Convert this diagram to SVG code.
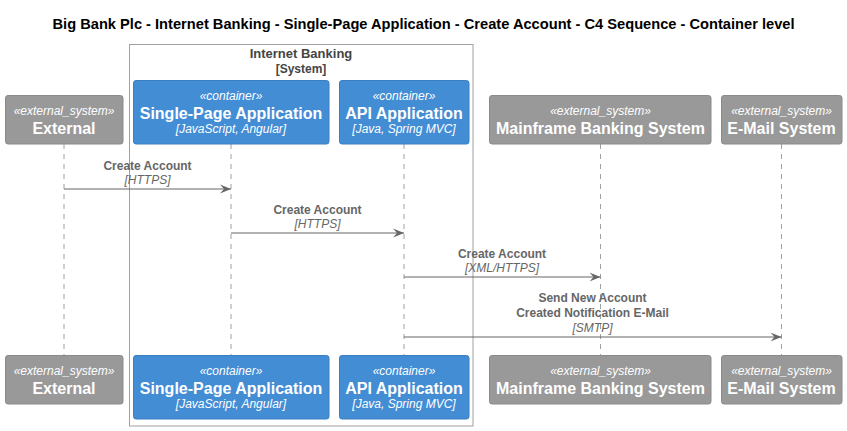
<svg xmlns="http://www.w3.org/2000/svg" width="847" height="431" viewBox="0 0 847 431">
<style>
text{font-family:"Liberation Sans",Arial,sans-serif;}
.title{font-size:14.5px;font-weight:bold;fill:#000;}
.bl{font-size:13px;font-weight:bold;fill:#444;}
.bs{font-size:12px;font-weight:bold;fill:#444;}
.ext{fill:#999999;stroke:#8A8A8A;stroke-width:1;}
.con{fill:#438DD5;stroke:#3C7FC0;stroke-width:1;}
.st{font-size:12px;font-style:italic;fill:#fff;}
.nm{font-size:16px;font-weight:bold;fill:#fff;}
.tc{font-size:12px;font-style:italic;fill:#fff;}
.life{stroke:#A0A0A0;stroke-width:1;stroke-dasharray:5,5;}
.msg{stroke:#666666;stroke-width:1;fill:none;}
.ml{font-size:12px;font-weight:bold;fill:#666666;}
.mt{font-size:12px;font-style:italic;fill:#666666;}
</style>
<defs>
<marker id="ah" markerWidth="11" markerHeight="10" refX="11" refY="5" orient="auto" markerUnits="userSpaceOnUse">
<polygon points="0,0.5 11,5 0,9.5 4,5" fill="#666666"/>
</marker>
</defs>
<rect width="847" height="431" fill="#fff"/>
<text class="title" x="423.5" y="29" text-anchor="middle" textLength="742" lengthAdjust="spacingAndGlyphs">Big Bank Plc - Internet Banking - Single-Page Application - Create Account - C4 Sequence - Container level</text>

<g id="boundary">
<rect x="129.5" y="44.5" width="343.5" height="381.5" fill="none" stroke="#A0A0A0" stroke-width="1"/>
<text class="bl" x="301" y="58" text-anchor="middle">Internet Banking</text>
<text class="bs" x="301" y="73" text-anchor="middle">[System]</text>
</g>

<g id="lifelines">
<line class="life" x1="64" y1="144" x2="64" y2="355"/>
<line class="life" x1="231" y1="144" x2="231" y2="355"/>
<line class="life" x1="404" y1="144" x2="404" y2="355"/>
<line class="life" x1="600.5" y1="144" x2="600.5" y2="355"/>
<line class="life" x1="781.5" y1="144" x2="781.5" y2="355"/>
</g>

<g id="external">
<rect class="ext" x="5.5" y="95.5" width="117.5" height="48.5" rx="2.5"/>
<text class="st" x="64" y="114.5" text-anchor="middle">«external_system»</text>
<text class="nm" x="64" y="133.5" text-anchor="middle">External</text>
<rect class="ext" x="5.5" y="355.5" width="117.5" height="48.5" rx="2.5"/>
<text class="st" x="64" y="374.5" text-anchor="middle">«external_system»</text>
<text class="nm" x="64" y="393.5" text-anchor="middle">External</text>
</g>

<g id="spa">
<rect class="con" x="133.5" y="80.5" width="195.5" height="63.5" rx="2.5"/>
<text class="st" x="231" y="100" text-anchor="middle">«container»</text>
<text class="nm" x="231" y="118.5" text-anchor="middle">Single-Page Application</text>
<text class="tc" x="231" y="133" text-anchor="middle">[JavaScript, Angular]</text>
<rect class="con" x="133.5" y="355.5" width="195.5" height="63.5" rx="2.5"/>
<text class="st" x="231" y="375" text-anchor="middle">«container»</text>
<text class="nm" x="231" y="393.5" text-anchor="middle">Single-Page Application</text>
<text class="tc" x="231" y="408" text-anchor="middle">[JavaScript, Angular]</text>
</g>

<g id="api">
<rect class="con" x="339.5" y="80.5" width="129.5" height="63.5" rx="2.5"/>
<text class="st" x="404" y="100" text-anchor="middle">«container»</text>
<text class="nm" x="404" y="118.5" text-anchor="middle">API Application</text>
<text class="tc" x="404" y="133" text-anchor="middle">[Java, Spring MVC]</text>
<rect class="con" x="339.5" y="355.5" width="129.5" height="63.5" rx="2.5"/>
<text class="st" x="404" y="375" text-anchor="middle">«container»</text>
<text class="nm" x="404" y="393.5" text-anchor="middle">API Application</text>
<text class="tc" x="404" y="408" text-anchor="middle">[Java, Spring MVC]</text>
</g>

<g id="mainframe">
<rect class="ext" x="489.5" y="95.5" width="221.5" height="48.5" rx="2.5"/>
<text class="st" x="600.5" y="114.5" text-anchor="middle">«external_system»</text>
<text class="nm" x="600.5" y="133.5" text-anchor="middle">Mainframe Banking System</text>
<rect class="ext" x="489.5" y="355.5" width="221.5" height="48.5" rx="2.5"/>
<text class="st" x="600.5" y="374.5" text-anchor="middle">«external_system»</text>
<text class="nm" x="600.5" y="393.5" text-anchor="middle">Mainframe Banking System</text>
</g>

<g id="email">
<rect class="ext" x="721.5" y="95.5" width="120.5" height="48.5" rx="2.5"/>
<text class="st" x="781.5" y="114.5" text-anchor="middle">«external_system»</text>
<text class="nm" x="781.5" y="133.5" text-anchor="middle">E-Mail System</text>
<rect class="ext" x="721.5" y="355.5" width="120.5" height="48.5" rx="2.5"/>
<text class="st" x="781.5" y="374.5" text-anchor="middle">«external_system»</text>
<text class="nm" x="781.5" y="393.5" text-anchor="middle">E-Mail System</text>
</g>

<g id="connectors">
<line class="msg" x1="64" y1="189" x2="231" y2="189" marker-end="url(#ah)"/>
<text class="ml" x="147.5" y="170" text-anchor="middle">Create Account</text>
<text class="mt" x="147.5" y="184" text-anchor="middle">[HTTPS]</text>

<line class="msg" x1="231" y1="233" x2="404" y2="233" marker-end="url(#ah)"/>
<text class="ml" x="317.5" y="214" text-anchor="middle">Create Account</text>
<text class="mt" x="317.5" y="228" text-anchor="middle">[HTTPS]</text>

<line class="msg" x1="404" y1="277" x2="600.5" y2="277" marker-end="url(#ah)"/>
<text class="ml" x="502" y="258" text-anchor="middle">Create Account</text>
<text class="mt" x="502" y="272" text-anchor="middle">[XML/HTTPS]</text>

<line class="msg" x1="404" y1="337" x2="781.5" y2="337" marker-end="url(#ah)"/>
<text class="ml" x="592.5" y="302" text-anchor="middle">Send New Account</text>
<text class="ml" x="592.5" y="317" text-anchor="middle">Created Notification E-Mail</text>
<text class="mt" x="592.5" y="332" text-anchor="middle">[SMTP]</text>
</g>
</svg>
